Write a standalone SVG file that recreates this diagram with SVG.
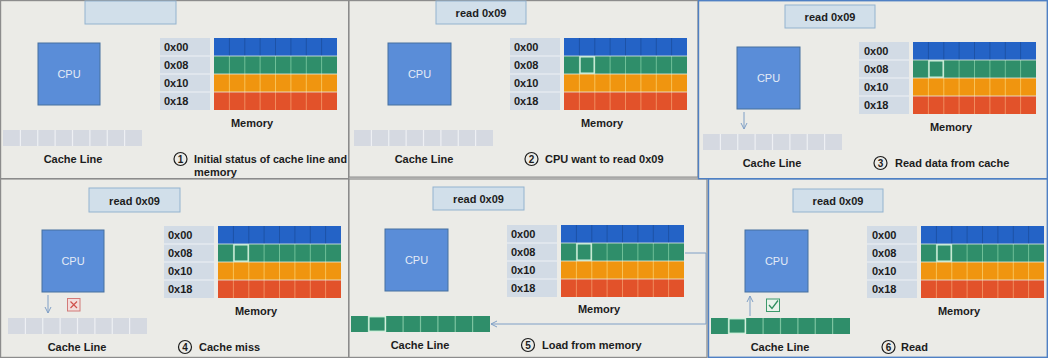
<svg xmlns="http://www.w3.org/2000/svg" xmlns:xlink="http://www.w3.org/1999/xlink" width="1048" height="358" viewBox="0 0 1048 358">
<style>
text{font-family:"Liberation Sans",Arial,sans-serif;font-size:11px;fill:#1c1c1c}
.b{font-weight:bold}
.c{text-anchor:middle}
.cpu{fill:#5a8dd8;stroke:#46709f;stroke-width:1}
.cput{fill:#e4ebf6;text-anchor:middle}
.req{fill:#d1dfea;stroke:#93b3cf;stroke-width:1}
.num{fill:none;stroke:#1c1c1c;stroke-width:1.2}
.numt{font-weight:bold;font-size:10px;text-anchor:middle}
.pan{fill:#ebebe7;stroke:#8c8c8c;stroke-width:1.2}
.panb{fill:#ebebe7;stroke:#4f80c4;stroke-width:1.4}
.arr{fill:none;stroke:#7f9fc6;stroke-width:1}
.hl{fill:none;stroke:#d3f0dd;stroke-width:1.4}
</style>
<defs>
<marker id="ah" viewBox="0 0 8 8" refX="7" refY="4" markerWidth="8" markerHeight="8" markerUnits="userSpaceOnUse" orient="auto">
<path d="M1 1L7 4L1 7" fill="none" stroke="#7f9fc6" stroke-width="1"/>
</marker>
<g id="mem">
<rect x="0" y="0" width="50" height="72" fill="#d2dbe5"/>
<path d="M0 18H50M0 36H50M0 54H50" stroke="#eef1f5" stroke-width="1"/>
<rect x="54" y="0" width="123" height="18" fill="#2463c6"/>
<rect x="54" y="18" width="123" height="18" fill="#2f8e6a"/>
<rect x="54" y="36" width="123" height="18" fill="#f0950f"/>
<rect x="54" y="54" width="123" height="18" fill="#e2522a"/>
<path d="M69.4 0V18M84.8 0V18M100.1 0V18M115.5 0V18M130.9 0V18M146.3 0V18M161.6 0V18" stroke="#1d52a6" stroke-width="1"/>
<path d="M69.4 18V36M84.8 18V36M100.1 18V36M115.5 18V36M130.9 18V36M146.3 18V36M161.6 18V36" stroke="#6fbf98" stroke-width="1"/>
<path d="M69.4 36V54M84.8 36V54M100.1 36V54M115.5 36V54M130.9 36V54M146.3 36V54M161.6 36V54" stroke="#f8c257" stroke-width="1"/>
<path d="M69.4 54V72M84.8 54V72M100.1 54V72M115.5 54V72M130.9 54V72M146.3 54V72M161.6 54V72" stroke="#f08c5e" stroke-width="1"/>
<path d="M54 18H177M54 36H177M54 54H177" stroke="#e6eee6" stroke-width="0.8"/>
</g>
<rect id="memhl" x="70" y="18.8" width="14.2" height="16.4" class="hl"/>
<g id="cacheEmpty">
<rect width="139" height="16" fill="#d5d9e1"/>
<path d="M17.4 0V16M34.75 0V16M52.1 0V16M69.5 0V16M86.9 0V16M104.25 0V16M121.6 0V16" stroke="#eef0f4" stroke-width="1.2"/>
</g>
<g id="cacheFull">
<rect width="139" height="16" fill="#2f8e6a"/>
<path d="M17.4 0V16M34.75 0V16M52.1 0V16M69.5 0V16M86.9 0V16M104.25 0V16M121.6 0V16" stroke="#7cc4a0" stroke-width="1.2"/>
<rect x="17.9" y="0.7" width="16.4" height="14.6" class="hl"/>
</g>
</defs>
<rect width="1048" height="358" fill="#e6e6e2"/>
<g id="frames">
<rect class="pan" x="0.6" y="0.6" width="348" height="178"/>
<rect class="pan" x="349" y="0.6" width="349" height="176.5"/>
<rect class="pan" x="0.6" y="179" width="348" height="178.4"/>
<rect class="pan" x="349" y="179" width="358" height="178.4"/>
<rect class="panb" x="698.5" y="0.7" width="348.8" height="178"/>
<rect class="panb" x="708.5" y="179" width="338.8" height="178.3"/>
</g>

<g id="panel1">
<g id="p1-request"><rect class="req" x="85" y="1" width="91" height="23"/></g>
<g id="p1-cpu"><rect class="cpu" x="38" y="43" width="62" height="62"/><text class="cput" x="69" y="78">CPU</text></g>
<g id="p1-memory"><use xlink:href="#mem" x="160" y="38"/>
<text class="b" x="164" y="51">0x00</text><text class="b" x="164" y="69">0x08</text><text class="b" x="164" y="87">0x10</text><text class="b" x="164" y="105">0x18</text>
<text class="b c" x="252" y="127">Memory</text></g>
<g id="p1-cache"><use xlink:href="#cacheEmpty" x="3" y="130"/><text class="b c" x="73" y="163">Cache Line</text></g>
<g id="p1-caption"><circle class="num" cx="180.5" cy="159" r="6.5"/><text class="numt" x="180.5" y="162.6">1</text>
<text class="b" x="194" y="163" textLength="153" lengthAdjust="spacingAndGlyphs">Initial status of cache line and</text><text class="b" x="194" y="175.5">memory</text></g>
</g>

<g id="panel2">
<g id="p2-request"><rect class="req" x="436" y="1" width="90" height="23"/><text class="b c" x="481" y="17">read 0x09</text></g>
<g id="p2-cpu"><rect class="cpu" x="388" y="43" width="63" height="62"/><text class="cput" x="419.5" y="78">CPU</text></g>
<g id="p2-memory"><use xlink:href="#mem" x="510" y="38"/><use xlink:href="#memhl" x="510" y="38"/>
<text class="b" x="514" y="51">0x00</text><text class="b" x="514" y="69">0x08</text><text class="b" x="514" y="87">0x10</text><text class="b" x="514" y="105">0x18</text>
<text class="b c" x="602" y="127">Memory</text></g>
<g id="p2-cache"><use xlink:href="#cacheEmpty" x="354" y="130"/><text class="b c" x="424" y="163">Cache Line</text></g>
<g id="p2-caption"><circle class="num" cx="531.5" cy="159" r="6.5"/><text class="numt" x="531.5" y="162.6">2</text>
<text class="b" x="545" y="163">CPU want to read 0x09</text></g>
</g>

<g id="panel3">
<g id="p3-request"><rect class="req" x="785" y="5" width="90" height="23"/><text class="b c" x="830" y="21">read 0x09</text></g>
<g id="p3-cpu"><rect class="cpu" x="737" y="47" width="63" height="62"/><text class="cput" x="768.5" y="82">CPU</text></g>
<g id="p3-memory"><use xlink:href="#mem" x="859" y="42"/><use xlink:href="#memhl" x="859" y="42"/>
<text class="b" x="864" y="55">0x00</text><text class="b" x="864" y="73">0x08</text><text class="b" x="864" y="91">0x10</text><text class="b" x="864" y="109">0x18</text>
<text class="b c" x="951" y="131">Memory</text></g>
<g id="p3-cache"><use xlink:href="#cacheEmpty" x="703" y="134"/><text class="b c" x="772" y="167">Cache Line</text></g>
<g id="p3-caption"><circle class="num" cx="880.5" cy="163" r="6.5"/><text class="numt" x="880.5" y="166.6">3</text>
<text class="b" x="895" y="167">Read data from cache</text></g>
</g>

<g id="panel4">
<g id="p4-request"><rect class="req" x="89" y="188" width="91" height="24"/><text class="b c" x="134.5" y="205">read 0x09</text></g>
<g id="p4-cpu"><rect class="cpu" x="42" y="230" width="62" height="62"/><text class="cput" x="73" y="265">CPU</text></g>
<g id="p4-miss"><rect x="67.5" y="298.5" width="12.5" height="12.5" fill="#f3dddc" stroke="#d27a78" stroke-width="1"/><path d="M70.5 301.5L77 308M77 301.5L70.5 308" stroke="#d0504c" stroke-width="1.2"/></g>
<g id="p4-memory"><use xlink:href="#mem" x="164" y="226"/><use xlink:href="#memhl" x="164" y="226"/>
<text class="b" x="168" y="239">0x00</text><text class="b" x="168" y="257">0x08</text><text class="b" x="168" y="275">0x10</text><text class="b" x="168" y="293">0x18</text>
<text class="b c" x="256" y="315">Memory</text></g>
<g id="p4-cache"><use xlink:href="#cacheEmpty" x="8" y="318"/><text class="b c" x="77" y="351">Cache Line</text></g>
<g id="p4-caption"><circle class="num" cx="185" cy="347" r="6.5"/><text class="numt" x="185" y="350.6">4</text>
<text class="b" x="199" y="351">Cache miss</text></g>
</g>

<g id="panel5">
<g id="p5-request"><rect class="req" x="433" y="187" width="91" height="23"/><text class="b c" x="478.5" y="203">read 0x09</text></g>
<g id="p5-cpu"><rect class="cpu" x="385" y="229" width="63" height="62"/><text class="cput" x="416.5" y="264">CPU</text></g>
<g id="p5-memory"><use xlink:href="#mem" x="507" y="225"/><use xlink:href="#memhl" x="507" y="225"/>
<text class="b" x="511" y="238">0x00</text><text class="b" x="511" y="256">0x08</text><text class="b" x="511" y="274">0x10</text><text class="b" x="511" y="292">0x18</text>
<text class="b c" x="599" y="313">Memory</text></g>
<g id="p5-cache"><use xlink:href="#cacheFull" x="351" y="316"/><text class="b c" x="420" y="349">Cache Line</text></g>
<g id="p5-caption"><circle class="num" cx="528" cy="345" r="6.5"/><text class="numt" x="528" y="348.6">5</text>
<text class="b" x="542" y="349">Load from memory</text></g>
</g>

<g id="panel6">
<g id="p6-request"><rect class="req" x="793" y="189" width="90" height="23"/><text class="b c" x="838" y="205">read 0x09</text></g>
<g id="p6-cpu"><rect class="cpu" x="745" y="230" width="63" height="62"/><text class="cput" x="776.5" y="265">CPU</text></g>
<g id="p6-hit"><rect x="766.5" y="299" width="13" height="12.5" fill="#e9f3ea" stroke="#3d9a6c" stroke-width="1"/><path d="M769 305L772 308.5L778 300.5" fill="none" stroke="#2f8e5e" stroke-width="1.3"/></g>
<g id="p6-memory"><use xlink:href="#mem" x="867" y="226"/><use xlink:href="#memhl" x="867" y="226"/>
<text class="b" x="872" y="239">0x00</text><text class="b" x="872" y="257">0x08</text><text class="b" x="872" y="275">0x10</text><text class="b" x="872" y="293">0x18</text>
<text class="b c" x="959" y="315">Memory</text></g>
<g id="p6-cache"><use xlink:href="#cacheFull" x="711" y="318"/><text class="b c" x="780" y="351">Cache Line</text></g>
<g id="p6-caption"><circle class="num" cx="888.5" cy="347" r="6.5"/><text class="numt" x="888.5" y="350.6">6</text>
<text class="b" x="901" y="351">Read</text></g>
</g>

<g id="connectors">
<path class="arr" d="M744 112V129" marker-end="url(#ah)"/>
<path class="arr" d="M48 295V313" marker-end="url(#ah)"/>
<path class="arr" d="M685 253H706V324H491" stroke="#9ab8d6" marker-end="url(#ah)"/>
<path class="arr" d="M750 316V296" marker-end="url(#ah)"/>
</g>
</svg>
